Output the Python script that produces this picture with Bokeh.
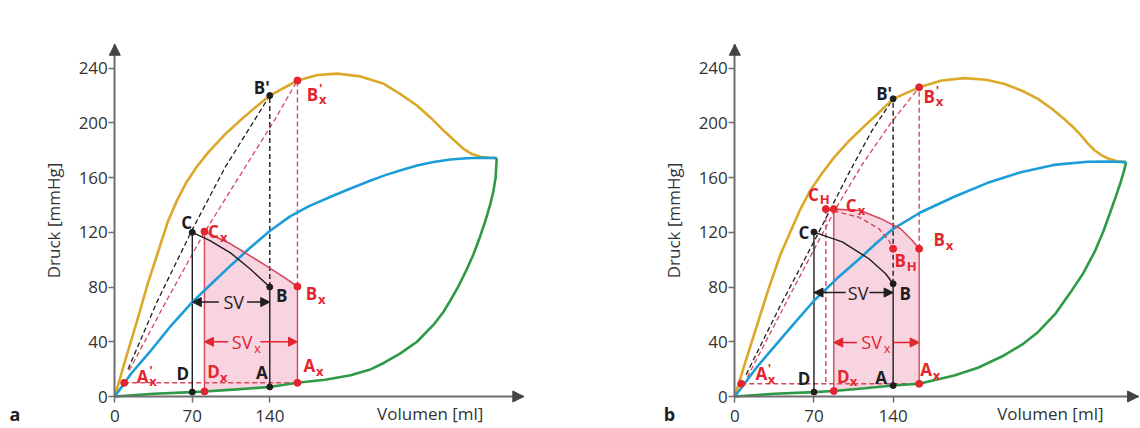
import numpy as np
from bokeh.plotting import figure
from bokeh.layouts import row
from bokeh.models import Arrow, NormalHead, Label, FixedTicker, Range1d
from bokeh.embed import file_html
from bokeh.resources import INLINE
from bokeh.core.properties import value

# ------------------------------------------------------------------ data
y_ticks = [0, 40, 80, 120, 160, 200, 240]
x_ticks = [0, 70, 140]
y_title = "Druck [mmHg]"
x_title = "Volumen [ml]"

# ---- panel a : curves (volume ml, pressure mmHg)
a_gold_v = [0, 10, 20, 30, 40, 48, 56, 65, 75, 85, 100, 115, 128, 140, 165, 183, 201, 222, 243, 258, 273, 285, 297, 306, 315, 322, 330, 338, 345]
a_gold_p = [0, 28, 55, 83, 108, 128, 143, 157, 169, 179, 192, 203, 212, 220, 231, 235, 236, 234, 228.6, 221, 212.7, 204, 194.4, 187.7, 181, 177.5, 175.2, 174.5, 174.3]
a_blue_v = [0, 15, 31, 50, 70, 88, 105, 122, 140, 158, 175, 195, 213, 230, 245, 260, 273, 288, 303, 318, 332, 345]
a_blue_p = [0, 17, 32, 51, 69, 83, 96, 108.5, 121, 131.5, 139, 146, 152, 157.5, 162, 165.8, 168.8, 171.4, 173.2, 174.2, 174.5, 174.3]
a_green_v = [0, 35, 70, 81, 110, 140, 165, 190, 213, 230, 243, 258, 273, 288, 297, 303, 310, 318, 324, 330, 335, 339, 342, 344, 345]
a_green_p = [0, 2, 3.2, 3.7, 5.2, 7, 10, 12.2, 15.5, 19.5, 24.5, 31.5, 40, 52.5, 62, 70, 80, 93, 104, 117, 129, 140, 150, 160, 174.3]
a_cb_v = [70, 86, 104.5, 122.6, 140]
a_cb_p = [120, 114, 105, 93, 80]
a_cxbx_v = [81, 104.5, 131.6, 152.7, 165]
a_cxbx_p = [120.6, 111.6, 98.2, 87.3, 80.4]
a_dashk_v = [12, 38, 70, 100, 140]
a_dashk_p = [20, 69, 122, 168, 220]
a_dashr_v = [13, 46, 81, 118, 145, 165]
a_dashr_p = [19, 69, 120, 168, 203, 231]
# ---- panel a : points
a_C, a_B, a_Bp, a_D, a_A = (70, 120), (140, 80), (140, 220), (70, 3.2), (140, 7)
a_Cx, a_Bx, a_Bpx, a_Dx, a_Ax, a_Apx = (81, 120.6), (165, 80.4), (165, 231), (81, 3.7), (165, 10), (8.5, 10)

# ---- panel b : curves
b_gold_v = [0, 10, 20, 30, 40, 50, 58, 67, 77, 88, 100, 115, 128, 140, 163, 183, 203, 222, 238, 254, 268, 280, 291, 299, 306, 312, 318, 324, 330, 338, 346]
b_gold_p = [0, 27, 53, 79, 103, 122, 137, 151, 163, 175, 186, 198, 208, 217.6, 226, 231, 232.7, 231.5, 228.6, 223.5, 217.6, 210.5, 203, 197, 191, 185, 180, 176.5, 174, 172, 171.3]
b_blue_v = [0, 21, 51, 70, 90, 110, 125, 140, 164, 194, 223, 253, 282, 312, 330, 346]
b_blue_p = [0, 23, 52, 70, 86, 100.5, 112, 122.6, 134.5, 146, 156, 164, 169.3, 171.6, 171.8, 171.3]
b_green_v = [0, 35, 70, 87.5, 115, 140, 163, 194, 215, 238, 255, 268, 283, 297, 308, 318, 326, 332.5, 337, 341.3, 344, 346]
b_green_p = [0, 2, 3.2, 4, 6, 8, 9.3, 15.4, 21, 30, 38.5, 47, 60, 76.3, 90, 105.5, 121, 136, 146.5, 157, 164.5, 171.3]
b_cb_v = [70, 95, 118.6, 133.4, 140]
b_cb_p = [120.2, 113, 100.7, 89.7, 82.4]
b_chbh_v = [80.5, 110, 127.5, 136.3, 140]
b_chbh_p = [137, 131, 122.6, 114, 108]
b_cxbx_v = [87.5, 111, 129, 146.6, 157, 163]
b_cxbx_p = [137, 136, 130, 122.6, 114, 108]
b_dashk_v = [10, 40, 73, 100, 121, 140]
b_dashk_p = [16, 66, 118, 162, 194, 217.6]
b_dashr_v = [11, 50, 89, 113, 138, 163]
b_dashr_p = [14, 76, 137, 170, 200, 226]
# ---- panel b : points
b_C, b_B, b_Bp, b_D, b_A = (70, 120.2), (140, 82.4), (140, 217.6), (70, 3.2), (140, 8)
b_CH, b_Cx, b_BH, b_Bx, b_Bpx = (80.5, 137), (87.5, 137), (140, 108), (163, 108), (163, 226)
b_Dx, b_Ax, b_Apx = (87.5, 4), (163, 9.3), (5.7, 9.3)

# ------------------------------------------------------------------ style / layout
FONT = "Open Sans"
GOLD = "#dba82a"
BLUE = "#1c9dd8"
GREEN = "#2f9a45"
RED = "#e3252f"
RLINE = "#d4475d"
PINK = "#f8d4e0"
BLACK = "#1e1e1e"
AXIS = "#6e6e6e"
TXT = "#333333"
H = 428
YSCALE = 1.368          # px per mmHg
Y0_PX = 396             # y pixel (inside the figure) of pressure 0
Y_TIP = 257.5           # end of the pressure axis (arrow tip)
LAB_Y = -12.6           # level of the labels under the volume axis


def tag(p, pt, main, off, color, sub=None, sup=None):
    x, y = pt
    dx, dy = off
    common = dict(text_font=value(FONT), text_font_style="bold", text_color=color, text_baseline="middle")
    p.text(x=[x], y=[y], text=[main], x_offset=dx, y_offset=dy, text_align="center",
           text_font_size="17px", **common)
    if sub:
        p.text(x=[x], y=[y], text=[sub], x_offset=dx + 6.5, y_offset=dy + 5, text_align="left",
               text_font_size="13px", **common)
    if sup:
        p.text(x=[x], y=[y], text=[sup], x_offset=dx + 6.5, y_offset=dy - 6, text_align="left",
               text_font_size="13px", **common)


def base(width, x0_px, xscale, x_tip, letter, letter_x, title_right):
    xs = -x0_px / xscale
    xe = (width - x0_px) / xscale
    ys = -(H - Y0_PX) / YSCALE
    ye = Y0_PX / YSCALE
    p = figure(width=width, height=H, output_backend="svg", toolbar_location=None,
               x_range=Range1d(xs, xe), y_range=Range1d(ys, ye), min_border=0)
    p.outline_line_color = None
    p.grid.visible = False
    p.xaxis.fixed_location = 0
    p.yaxis.fixed_location = 0
    p.xaxis.bounds = (0, x_tip)
    p.yaxis.bounds = (0, Y_TIP)
    p.xaxis.ticker = FixedTicker(ticks=x_ticks)
    p.yaxis.ticker = FixedTicker(ticks=y_ticks)
    p.axis.minor_tick_line_color = None
    p.axis.axis_line_color = AXIS
    p.axis.axis_line_width = 2
    p.axis.major_tick_line_color = AXIS
    p.axis.major_tick_line_width = 1.5
    p.axis.major_tick_in = 0
    p.axis.major_tick_out = 6
    p.axis.major_label_text_font = FONT
    p.axis.major_label_text_font_size = "17px"
    p.axis.major_label_text_color = TXT
    p.xaxis.major_label_standoff = 7
    p.yaxis.major_label_standoff = 1
    p.yaxis.axis_label = y_title
    p.yaxis.axis_label_text_font = FONT
    p.yaxis.axis_label_text_font_style = "normal"
    p.yaxis.axis_label_text_font_size = "17px"
    p.yaxis.axis_label_text_color = TXT
    p.yaxis.axis_label_standoff = 10
    # axis arrow heads
    p.add_layout(Arrow(end=NormalHead(size=11, fill_color="#444444", line_color="#444444"),
                       x_start=0, y_start=Y_TIP - 6, x_end=0, y_end=Y_TIP, line_color=AXIS, line_width=2))
    p.add_layout(Arrow(end=NormalHead(size=11, fill_color="#444444", line_color="#444444"),
                       x_start=x_tip - 8, y_start=0, x_end=x_tip, y_end=0, line_color=AXIS, line_width=2))
    p.add_layout(Label(x=title_right, y=LAB_Y, text=x_title, text_align="right", text_baseline="middle",
                       text_font=FONT, text_font_size="17px", text_color=TXT))
    p.add_layout(Label(x=letter_x, y=LAB_Y, text=letter, text_align="center", text_baseline="middle",
                       text_font=FONT, text_font_size="18px", text_font_style="bold", text_color=BLACK))
    return p


def pink(p, Dx, cv, cp, Ax, gv, gp):
    inner = [(v, q) for v, q in zip(gv, gp) if Dx[0] < v < Ax[0]][::-1]
    xs = [Dx[0]] + list(cv) + [Ax[0]] + [v for v, _ in inner]
    ys = [Dx[1]] + list(cp) + [Ax[1]] + [q for _, q in inner]
    p.patch(xs, ys, fill_color=PINK, line_color=None)


def seg(p, P, Q, color, dash="solid", w=1.4):
    p.line([P[0], Q[0]], [P[1], Q[1]], line_color=color, line_width=w, line_dash=dash)


def sv(p, left_v, right_v, level, center, hl, hr, color, sub=None):
    for tail, head in ((center - hl, left_v), (center + hr, right_v)):
        p.add_layout(Arrow(end=NormalHead(size=9, fill_color=color, line_color=color),
                           x_start=tail, y_start=level, x_end=head, y_end=level,
                           line_color=color, line_width=1.5))
    p.text(x=[center], y=[level], text=["SV"], text_align="center", text_baseline="middle",
           text_font=value(FONT), text_font_size="18px", text_color=color)
    if sub:
        p.text(x=[center], y=[level], text=[sub], x_offset=12, y_offset=6, text_align="left",
               text_baseline="middle", text_font=value(FONT), text_font_size="13px", text_color=color)


DASH = "5 3"

# ------------------------------------------------------------------ panel a
pa = base(566, 114.3, 1.107, 369.5, "a", -90.2, 333)
pink(pa, a_Dx, a_cxbx_v, a_cxbx_p, a_Ax, a_green_v, a_green_p)
pa.line(a_dashk_v, a_dashk_p, line_color=BLACK, line_width=1.3, line_dash=DASH)
pa.line(a_dashr_v, a_dashr_p, line_color=RLINE, line_width=1.3, line_dash=DASH)
seg(pa, a_Apx, (a_Ax[0], a_Apx[1]), RLINE, DASH)
seg(pa, a_D, a_C, BLACK)
seg(pa, a_Dx, a_Cx, RLINE)
seg(pa, a_A, a_B, BLACK)
seg(pa, a_B, a_Bp, BLACK, DASH)
seg(pa, a_Ax, a_Bx, RLINE)
seg(pa, a_Bx, a_Bpx, RLINE, DASH)
pa.line(a_gold_v, a_gold_p, line_color=GOLD, line_width=2.6)
pa.line(a_blue_v, a_blue_p, line_color=BLUE, line_width=2.6)
pa.line(a_green_v, a_green_p, line_color=GREEN, line_width=2.6)
pa.line(a_cb_v, a_cb_p, line_color=BLACK, line_width=1.4)
pa.line(a_cxbx_v, a_cxbx_p, line_color=RLINE, line_width=1.6)
pa.scatter([q[0] for q in (a_C, a_B, a_Bp, a_D, a_A)], [q[1] for q in (a_C, a_B, a_Bp, a_D, a_A)],
           size=6, color=BLACK)
pa.scatter([q[0] for q in (a_Cx, a_Bx, a_Bpx, a_Dx, a_Ax, a_Apx)],
           [q[1] for q in (a_Cx, a_Bx, a_Bpx, a_Dx, a_Ax, a_Apx)], size=7, color=RED)
sv(pa, a_C[0], a_B[0], 69, 107.5, 13.5, 12, BLACK)
sv(pa, a_Dx[0], a_Ax[0], 40, 115, 12.5, 16.5, RED, sub="x")
tag(pa, a_C, "C", (-5.5, -9.5), BLACK)
tag(pa, a_Cx, "C", (9, 0), RED, sub="x")
tag(pa, a_Bp, "B'", (-8, -8.5), BLACK)
tag(pa, a_Bpx, "B", (15, 14), RED, sub="x", sup="'")
tag(pa, a_B, "B", (12, 8), BLACK)
tag(pa, a_Bx, "B", (14, 7), RED, sub="x")
tag(pa, a_D, "D", (-9.5, -19), BLACK)
tag(pa, a_Dx, "D", (9, -19.5), RED, sub="x")
tag(pa, a_A, "A", (-8, -14), BLACK)
tag(pa, a_Ax, "A", (12, -17), RED, sub="x")
tag(pa, a_Apx, "A", (18.5, -6.7), RED, sub="x", sup="'")

# ------------------------------------------------------------------ panel b
pb = base(574, 168.3, 1.131, 357, "b", -57.7, 326)
pink(pb, b_Dx, b_cxbx_v, b_cxbx_p, b_Ax, b_green_v, b_green_p)
pb.line(b_dashk_v, b_dashk_p, line_color=BLACK, line_width=1.3, line_dash=DASH)
pb.line(b_dashr_v, b_dashr_p, line_color=RLINE, line_width=1.3, line_dash=DASH)
seg(pb, b_Apx, (b_Ax[0], b_Apx[1]), RLINE, DASH)
seg(pb, b_D, b_C, BLACK)
seg(pb, b_Dx, b_Cx, RLINE)
seg(pb, b_CH, (b_CH[0], b_Apx[1]), RLINE, DASH)
seg(pb, b_A, b_B, BLACK)
seg(pb, b_B, b_Bp, BLACK, DASH)
seg(pb, b_Ax, b_Bx, RLINE)
seg(pb, b_Bx, b_Bpx, RLINE, DASH)
pb.line(b_gold_v, b_gold_p, line_color=GOLD, line_width=2.6)
pb.line(b_blue_v, b_blue_p, line_color=BLUE, line_width=2.6)
pb.line(b_green_v, b_green_p, line_color=GREEN, line_width=2.6)
pb.line(b_cb_v, b_cb_p, line_color=BLACK, line_width=1.4)
pb.line(b_chbh_v, b_chbh_p, line_color=RLINE, line_width=1.4, line_dash=DASH)
pb.line(b_cxbx_v, b_cxbx_p, line_color=RLINE, line_width=1.6)
pb.scatter([q[0] for q in (b_C, b_B, b_Bp, b_D, b_A)], [q[1] for q in (b_C, b_B, b_Bp, b_D, b_A)],
           size=6, color=BLACK)
pb.scatter([q[0] for q in (b_CH, b_Cx, b_BH, b_Bx, b_Bpx, b_Dx, b_Ax, b_Apx)],
           [q[1] for q in (b_CH, b_Cx, b_BH, b_Bx, b_Bpx, b_Dx, b_Ax, b_Apx)], size=7, color=RED)
sv(pb, b_C[0], b_B[0], 76, 109, 11, 10, BLACK)
sv(pb, b_Cx[0], b_Ax[0], 39.5, 121, 13, 18.4, RED, sub="x")
tag(pb, b_CH, "C", (-12.5, -15), RED, sub="H")
tag(pb, b_Cx, "C", (17.5, -4), RED, sub="x")
tag(pb, b_C, "C", (-10, 0), BLACK)
tag(pb, b_BH, "B", (7, 12), RED, sub="H")
tag(pb, b_B, "B", (12, 10), BLACK)
tag(pb, b_Bx, "B", (20, -9), RED, sub="x")
tag(pb, b_Bp, "B'", (-9, -5), BLACK)
tag(pb, b_Bpx, "B", (10, 9), RED, sub="x", sup="'")
tag(pb, b_D, "D", (-10, -14), BLACK)
tag(pb, b_Dx, "D", (9.5, -15), RED, sub="x")
tag(pb, b_A, "A", (-12, -8), BLACK)
tag(pb, b_Ax, "A", (7, -14), RED, sub="x")
tag(pb, b_Apx, "A", (20, -10), RED, sub="x", sup="'")

layout = row(pa, pb)
open("out.html", "w").write(file_html(layout, INLINE))
